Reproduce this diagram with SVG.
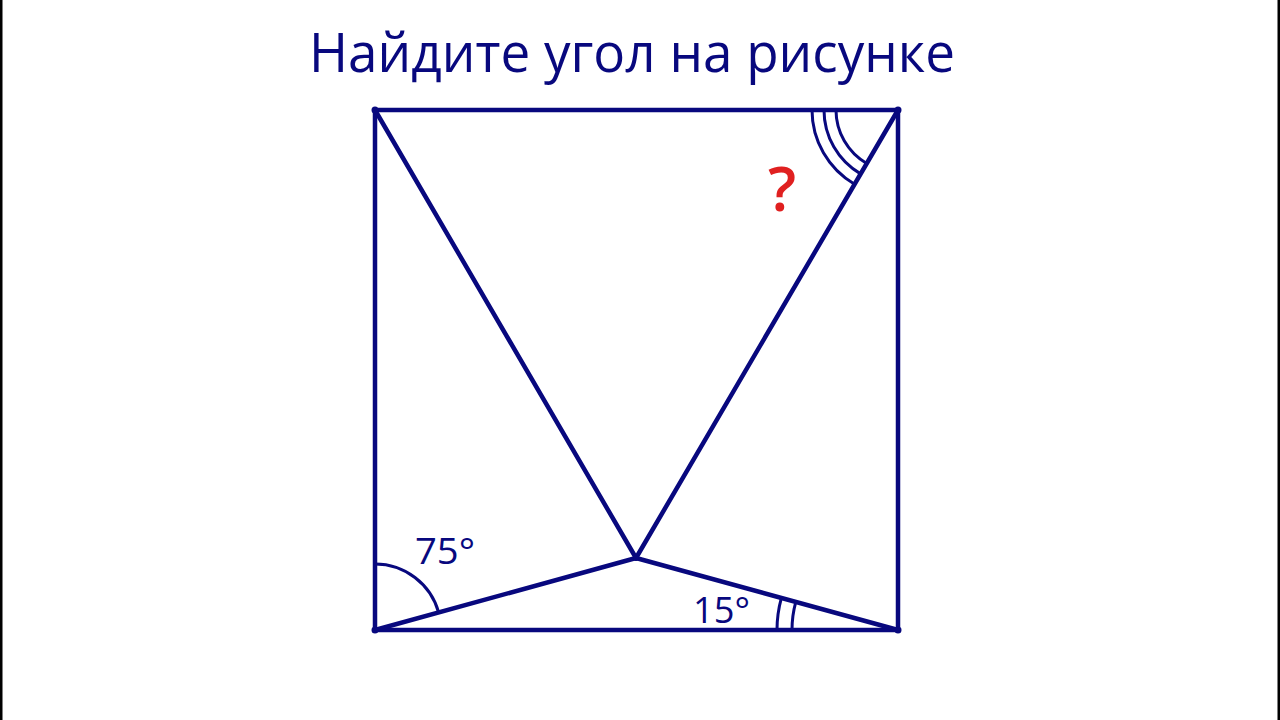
<svg xmlns="http://www.w3.org/2000/svg" width="1280" height="720" viewBox="0 0 1280 720">
<style>
.ln{stroke:#08087e;stroke-width:4.5;stroke-linecap:round;fill:none}
.arc{stroke:#08087e;stroke-width:3;fill:none}
.lbl{font-family:"Open Sans","Liberation Sans",sans-serif;fill:#08087e}
.pt{fill:#08087e}
</style>
<rect x="0" y="0" width="1280" height="720" fill="#ffffff"/>
<rect x="0" y="0" width="2.5" height="720" fill="#000000"/>
<rect x="1277.5" y="0" width="2.5" height="720" fill="#000000"/>
<text id="title" class="lbl" x="632" y="72" font-size="54" text-anchor="middle" textLength="646" lengthAdjust="spacingAndGlyphs">Найдите угол на рисунке</text>
<g id="connectors">
<rect class="ln" x="375" y="110" width="523" height="520"/>
<line class="ln" x1="375" y1="110" x2="636" y2="558"/>
<line class="ln" x1="898" y1="110" x2="636" y2="558"/>
<line class="ln" x1="375" y1="630" x2="636" y2="558"/>
<line class="ln" x1="898" y1="630" x2="636" y2="558"/>
</g>
<g id="points">
<circle class="pt" cx="375" cy="110" r="3.5"/>
<circle class="pt" cx="898" cy="110" r="3.5"/>
<circle class="pt" cx="375" cy="630" r="3.5"/>
<circle class="pt" cx="898" cy="630" r="3.5"/>
<circle class="pt" cx="636" cy="558" r="3"/>
</g>
<g id="angle-top-right">
<path class="arc" d="M812 110 A86 86 0 0 0 854.6 184.2"/>
<path class="arc" d="M824 110 A74 74 0 0 0 860.6 173.9"/>
<path class="arc" d="M836 110 A62 62 0 0 0 866.7 163.5"/>
<text x="782" y="211" font-family="Open Sans, Liberation Sans, sans-serif" font-size="62" font-weight="600" fill="#e02020" text-anchor="middle">?</text>
</g>
<g id="angle-bottom-left">
<path class="arc" d="M375 564 A66 66 0 0 1 438.6 612.4"/>
<text class="lbl" x="415" y="564" font-size="36" textLength="60" lengthAdjust="spacingAndGlyphs">75°</text>
</g>
<g id="angle-bottom-right">
<path class="arc" d="M777 630 A121 121 0 0 1 781.4 597.9"/>
<path class="arc" d="M792 630 A106 106 0 0 1 795.8 601.9"/>
<text class="lbl" x="693" y="623" font-size="36" textLength="57" lengthAdjust="spacingAndGlyphs">15°</text>
</g>
</svg>
